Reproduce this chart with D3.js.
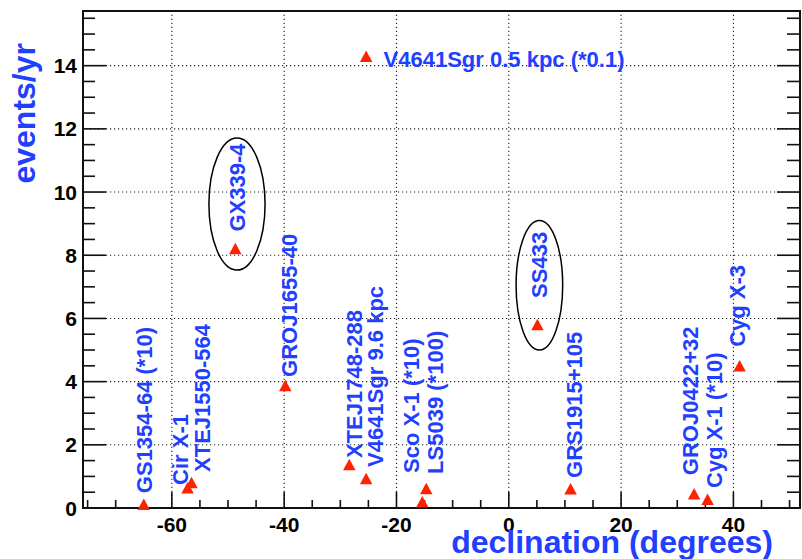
<!DOCTYPE html>
<html>
<head>
<meta charset="utf-8">
<script src="https://cdn.jsdelivr.net/npm/d3@7"></script>
<style>
  html, body { margin: 0; padding: 0; background: #fff; }
  svg { display: block; }
  text { font-family: "Liberation Sans", Arial, Helvetica, sans-serif; font-weight: bold; }
</style>
</head>
<body>
<svg id="chart" width="802" height="559"></svg>
<script>
// ---- data ----
const sources = ["GS1354-64 (*10)", "Cir X-1", "XTEJ1550-564", "GX339-4", "GROJ1655-40",
  "XTEJ1748-288", "V4641Sgr 9.6 kpc", "Sco X-1 (*10)", "LS5039 (*100)", "V4641Sgr 0.5 kpc (*0.1)",
  "SS433", "GRS1915+105", "GROJ0422+32", "Cyg X-1 (*10)", "Cyg X-3"];
const declination = [-65.0, -57.2, -56.5, -48.7, -39.8, -28.4, -25.4, -15.4, -14.7, -25.4,
  5.1, 11.0, 33.0, 35.4, 41.1];
const eventsPerYear = [0.12, 0.64, 0.81, 8.21, 3.88, 1.38, 0.93, 0.20, 0.62, 14.30,
  5.81, 0.61, 0.45, 0.28, 4.50];
// label anchors in data coordinates (declination, events/yr)
const labelDec = [-63.5, -57.1, -53.2, -46.9, -37.7, -26.1, -22.4, -16.0, -11.7, -22.3,
  6.8, 13.05, 33.7, 37.9, 42.1];
const labelEvt = [0.47, 0.73, 1.14, 8.75, 4.15, 1.58, 1.30, 1.11, 1.08, 13.96,
  6.65, 0.95, 1.04, 0.63, 5.1];
const labelVertical = [1, 1, 1, 1, 1, 1, 1, 1, 1, 0, 1, 1, 1, 1, 1];
// highlight ellipses: center (dec, evt), half-widths in data units
const circled = [
  {name: "GX339-4", dec: -48.4, evt: 9.62, rdec: 5.0, revt: 2.09},
  {name: "SS433",   dec: 5.45,  evt: 7.05, rdec: 4.15, revt: 2.05}
];
const xMajorTicks = [-60, -40, -20, 0, 20, 40];
const yMajorTicks = [0, 2, 4, 6, 8, 10, 12, 14];
const xTitle = "declination (degrees)";
const yTitle = "events/yr";

// ---- layout ----
const BLUE = "#1f40ff", RED = "#ff2200";
const svg = d3.select("#chart");
const x = d3.scaleLinear().domain([-76, 52]).range([82, 800.8]);
const y = d3.scaleLinear().domain([0, 15.73]).range([508, 11]);
const X0 = x.range()[0], X1 = 800, Y0 = y.range()[0], Y1 = 11;

// gridlines
const grid = svg.append("g").attr("stroke", "#222").attr("stroke-width", 1.1)
  .attr("stroke-dasharray", "1.2,2.8");
grid.selectAll("line.gx").data(xMajorTicks).enter().append("line")
  .attr("x1", d => x(d)).attr("x2", d => x(d)).attr("y1", Y0).attr("y2", Y1);
grid.selectAll("line.gy").data(yMajorTicks.filter(d => d > 0)).enter().append("line")
  .attr("x1", X0).attr("x2", X1).attr("y1", d => y(d)).attr("y2", d => y(d));

// ticks
const xMinor = d3.range(-75, 51, 5);
const yMinor = d3.range(0, 15.6, 0.5);
const ticks = svg.append("g").attr("stroke", "#111").attr("stroke-width", 1.6);
ticks.selectAll("line.xt").data(xMinor).enter().append("line")
  .attr("x1", d => x(d)).attr("x2", d => x(d)).attr("y1", Y0)
  .attr("y2", d => Y0 - (d % 20 === 0 ? 16 : 8));
ticks.selectAll("line.ylt").data(yMinor).enter().append("line")
  .attr("y1", d => y(d)).attr("y2", d => y(d)).attr("x1", X0)
  .attr("x2", d => X0 + (d % 2 === 0 ? 24 : 13));
ticks.selectAll("line.yrt").data(yMinor).enter().append("line")
  .attr("y1", d => y(d)).attr("y2", d => y(d)).attr("x1", X1)
  .attr("x2", d => X1 - (d % 2 === 0 ? 23 : 13));

// frame
svg.append("rect").attr("x", X0 + 1).attr("y", Y1).attr("width", X1 - X0 - 1).attr("height", Y0 - Y1)
  .attr("fill", "none").attr("stroke", "#111").attr("stroke-width", 2);

// tick labels
svg.append("g").selectAll("text").data(xMajorTicks).enter().append("text")
  .attr("x", d => x(d)).attr("y", 531.7).attr("text-anchor", "middle")
  .attr("font-size", 21).attr("fill", "#000").text(d => d);
svg.append("g").selectAll("text").data(yMajorTicks).enter().append("text")
  .attr("x", 77).attr("y", d => y(d) + 7.5).attr("text-anchor", "end")
  .attr("font-size", 21).attr("fill", "#000").text(d => d);

// axis titles
svg.append("text").attr("x", 773).attr("y", 553).attr("text-anchor", "end")
  .attr("font-size", 32).attr("fill", BLUE).text(xTitle);
svg.append("text").attr("transform", "translate(35,43) rotate(-90)").attr("text-anchor", "end")
  .attr("font-size", 32).attr("fill", BLUE).text(yTitle);

// ellipses
svg.append("g").selectAll("ellipse").data(circled).enter().append("ellipse")
  .attr("cx", d => x(d.dec)).attr("cy", d => y(d.evt))
  .attr("rx", d => x(d.dec + d.rdec) - x(d.dec))
  .attr("ry", d => y(d.evt - d.revt) - y(d.evt))
  .attr("fill", "none").attr("stroke", "#000").attr("stroke-width", 1.5);

// points (triangle markers)
const pts = sources.map((s, i) => ({name: s, dec: declination[i], evt: eventsPerYear[i],
  ldec: labelDec[i], levt: labelEvt[i], vert: labelVertical[i]}));
const s = 12.5, h = 11.5;
svg.append("g").selectAll("path").data(pts).enter().append("path")
  .attr("transform", d => `translate(${x(d.dec)},${y(d.evt)})`)
  .attr("d", `M0,${-h/2}L${s/2},${h/2}L${-s/2},${h/2}Z`)
  .attr("fill", RED);

// labels
svg.append("g").selectAll("text").data(pts).enter().append("text")
  .attr("transform", d => `translate(${x(d.ldec)},${y(d.levt)})` + (d.vert ? " rotate(-90)" : ""))
  .attr("font-size", 22).attr("fill", BLUE).text(d => d.name);
</script>
</body>
</html>
